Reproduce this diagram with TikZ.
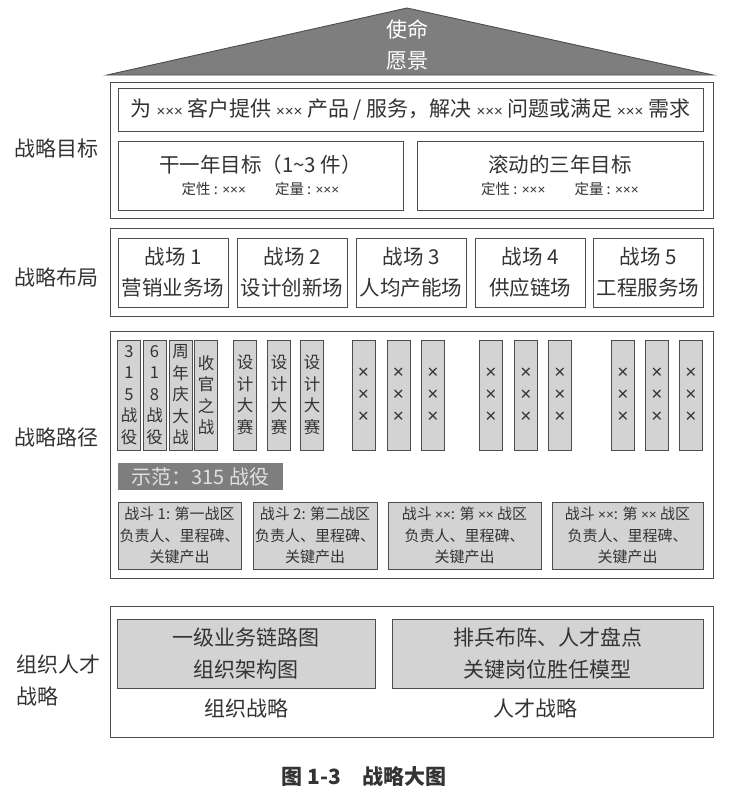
\documentclass[tikz,border=0pt]{standalone}
\usepackage{fontspec}
\setmainfont{Noto Sans CJK SC}
\newfontfamily\xf{Liberation Sans}
\usetikzlibrary{positioning}
\definecolor{txt}{HTML}{333333}
\definecolor{edge}{HTML}{4D4D4D}
\definecolor{lgray}{HTML}{D3D3D3}
\definecolor{dgray}{HTML}{7E7E7E}
\newcommand{\xx}[1]{{\xf\fontsize{15}{15}\selectfont #1}}
\newcommand{\xs}[1]{{\xf\fontsize{13.5}{13.5}\selectfont #1}}
\tikzset{
  frame/.style={draw=edge, line width=0.9pt, fill=white, inner sep=0pt},
  wbox/.style={draw=edge, line width=0.9pt, fill=white, inner sep=0pt, align=center, text=txt},
  gbox/.style={draw=edge, line width=0.9pt, fill=lgray, inner sep=0pt, align=center, text=txt},
  col/.style={gbox, minimum width=23pt, minimum height=110pt, font=\fontsize{16.5}{21.5}\selectfont},
  xcol/.style={gbox, minimum width=23pt, minimum height=110pt, font=\fontsize{19}{22}\selectfont},
  lbl/.style={text=txt, font=\fontsize{21}{32}\selectfont, align=left},
  big/.style={font=\fontsize{20.5}{31}\selectfont},
  bat/.style={gbox, minimum height=67pt, font=\fontsize{15}{21.5}\selectfont},
}
\begin{document}
\begin{tikzpicture}[x=1pt,y=-1pt]
\useasboundingbox (0,0) rectangle (746,804);
% roof
\path[fill=dgray, draw=edge, line width=0.9pt] (107,75) -- (407,8) -- (713,75) -- cycle;
\node[text=white, font=\fontsize{21}{31}\selectfont, align=center] (roof) at (407,45) {使命\\愿景};
% section 1
\node[frame, minimum width=603pt, minimum height=136pt] (s1) at (411.5,150) {};
\node[lbl] (l1) at (57,148) {战略目标};
\node[wbox, minimum width=585pt, minimum height=43pt, font=\fontsize{21}{30}\selectfont] (mission) at (410.5,109.5)
  {为 \xx{×××} 客户提供 \xx{×××} 产品 / 服务，解决 \xx{×××} 问题或满足 \xx{×××} 需求};
\node[wbox, minimum width=285pt, minimum height=69pt] (g1) at (260.5,175.5)
  {{\fontsize{20.5}{24}\selectfont 干一年目标（1\textasciitilde 3 件）}\\[7pt]{\fontsize{14.5}{16}\selectfont 定性 : \xs{×××}\qquad 定量 : \xs{×××}}};
\node[wbox, minimum width=286pt, minimum height=69pt] (g3) at (560,175.5)
  {{\fontsize{20.5}{24}\selectfont 滚动的三年目标}\\[7pt]{\fontsize{14.5}{16}\selectfont 定性 : \xs{×××}\qquad 定量 : \xs{×××}}};
% section 2
\node[frame, minimum width=603pt, minimum height=88pt] (s2) at (411.5,272) {};
\node[lbl] (l2) at (57,277) {战略布局};
\node[wbox, minimum width=110pt, minimum height=69pt, big] (f1) at (173,272.5) {战场 1\\营销业务场};
\node[wbox, minimum width=110pt, minimum height=69pt, big] (f2) at (292,272.5) {战场 2\\设计创新场};
\node[wbox, minimum width=110pt, minimum height=69pt, big] (f3) at (411,272.5) {战场 3\\人均产能场};
\node[wbox, minimum width=110pt, minimum height=69pt, big] (f4) at (530,272.5) {战场 4\\供应链场};
\node[wbox, minimum width=110pt, minimum height=69pt, big] (f5) at (648,272.5) {战场 5\\工程服务场};
% section 3
\node[frame, minimum width=603pt, minimum height=247pt] (s3) at (411.5,454.5) {};
\node[lbl] (l3) at (57,437) {战略路径};
\node[col] (c1) at (129,395) {3\\1\\5\\战\\役};
\node[col] (c2) at (154.5,395) {6\\1\\8\\战\\役};
\node[col] (c3) at (180.5,395) {周\\年\\庆\\大\\战};
\node[col] (c4) at (206,395) {收\\官\\之\\战};
\node[col] (c5) at (245,395) {设\\计\\大\\赛};
\node[col] (c6) at (279,395) {设\\计\\大\\赛};
\node[col] (c7) at (312,395) {设\\计\\大\\赛};
\foreach \n/\x in {8/363.5,9/398.5,10/433,11/491,12/526,13/560,14/623,15/657,16/691}
  \node[xcol] (c\n) at (\x,395) {\xf ×\\\xf ×\\\xf ×};
\node[draw=none, fill=dgray, minimum width=165pt, minimum height=27pt, inner sep=0pt,
  text=white!88!black, font=\fontsize{20}{22}\selectfont] (demo) at (200.5,476.5) {示范：315 战役};
\node[bat, minimum width=123pt] (b1) at (179.5,535.5) {战斗 1: 第一战区\\负责人、里程碑、\\关键产出};
\node[bat, minimum width=124pt] (b2) at (315,535.5) {战斗 2: 第二战区\\负责人、里程碑、\\关键产出};
\node[bat, minimum width=153pt] (b3) at (464.5,535.5) {战斗 \xs{××}: 第 \xs{××} 战区\\负责人、里程碑、\\关键产出};
\node[bat, minimum width=151pt] (b4) at (627.5,535.5) {战斗 \xs{××}: 第 \xs{××} 战区\\负责人、里程碑、\\关键产出};
% section 4
\node[frame, minimum width=603pt, minimum height=131pt] (s4) at (411.5,671.5) {};
\node[lbl, anchor=west] (l4) at (13,681) {组织人才\\战略};
\node[gbox, minimum width=258pt, minimum height=69pt, font=\fontsize{21}{32}\selectfont] (o1) at (246,653.5) {一级业务链路图\\组织架构图};
\node[gbox, minimum width=311pt, minimum height=69pt, font=\fontsize{21}{32}\selectfont] (o2) at (547.5,653.5) {排兵布阵、人才盘点\\关键岗位胜任模型};
\node[text=txt, font=\fontsize{21}{22}\selectfont] (o1l) at (246,708) {组织战略};
\node[text=txt, font=\fontsize{21}{22}\selectfont] (o2l) at (535,708) {人才战略};
% caption
\node[text=txt, font=\bfseries\fontsize{21}{22}\selectfont] (cap) at (364,777) {图 1-3\quad 战略大图};
\end{tikzpicture}
\end{document}
